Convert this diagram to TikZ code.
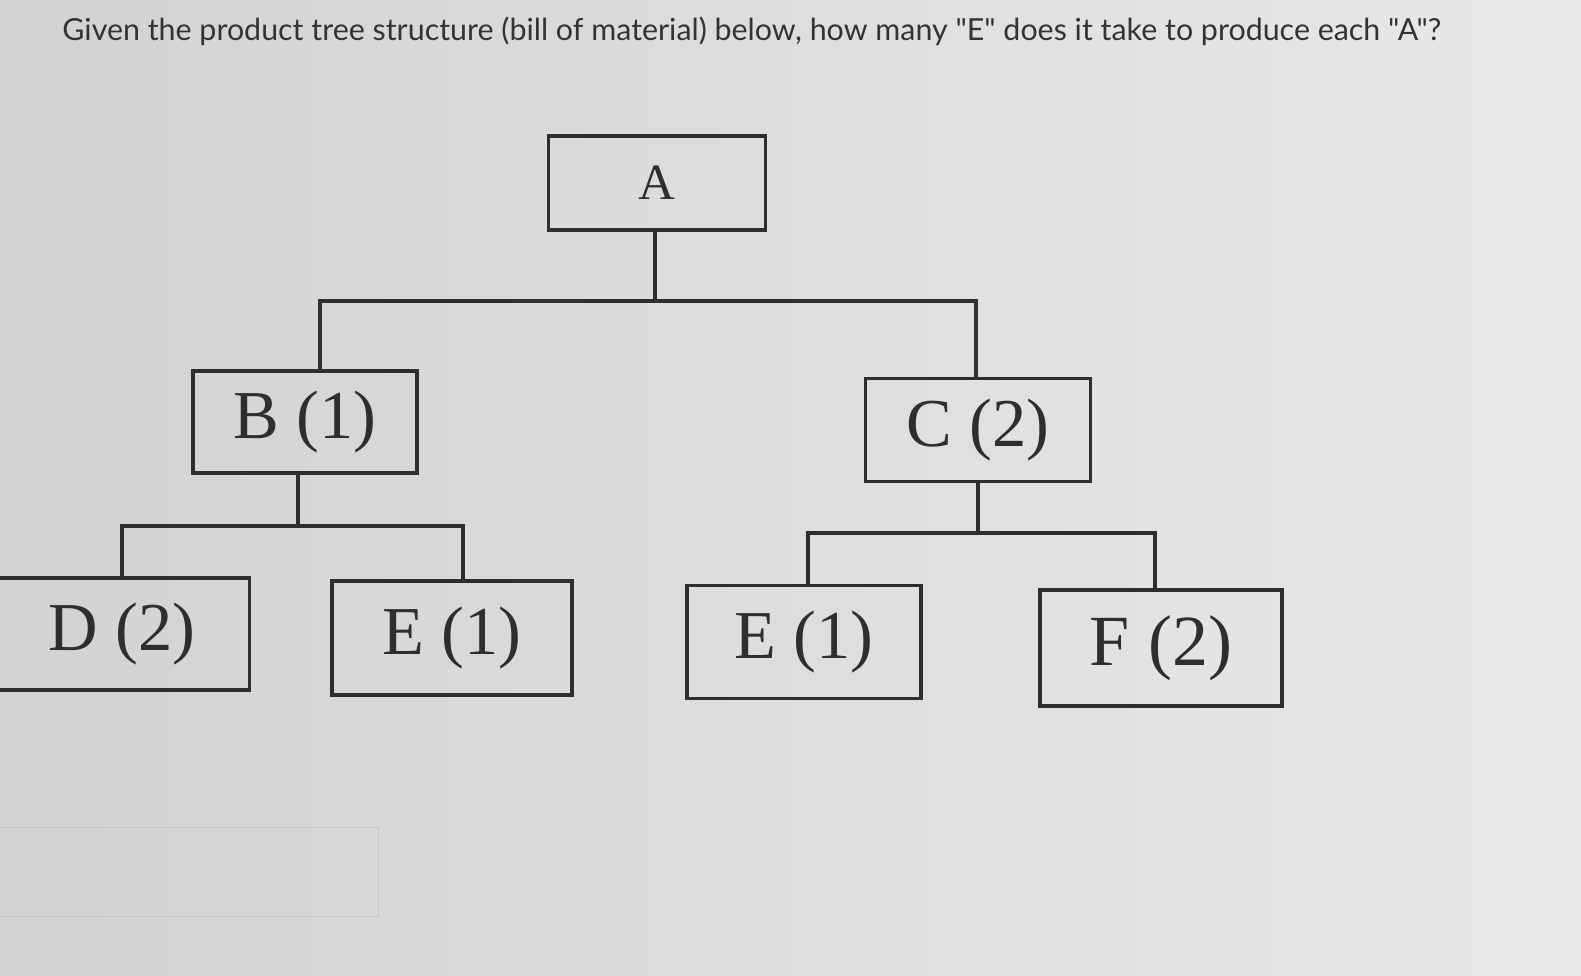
\documentclass[tikz,border=0pt]{standalone}
\usepackage{fontspec}
\setmainfont{Liberation Serif}
\newfontfamily\titlefont{Lato}
\usetikzlibrary{calc}
\definecolor{inkc}{HTML}{2E2E2E}
\definecolor{titlec}{HTML}{333333}
\definecolor{bgleft}{HTML}{D2D2D2}
\definecolor{bgright}{HTML}{E9E9E9}
\definecolor{fieldc}{HTML}{C4C4C4}
\begin{document}
\begin{tikzpicture}[x=0.02cm,y=-0.02cm,
  partbox/.style={draw=inkc,line width=2.2pt,rectangle,inner sep=0pt,text=inkc,font=\fontsize{39}{41}\selectfont},
  link/.style={draw=inkc,line width=2.2pt}]
\shade[left color=bgleft,right color=bgright] (0,0) rectangle (1581,976);
\useasboundingbox (0,0) rectangle (1581,976);
\node[anchor=base west,text=titlec,font=\titlefont\fontsize{17.3}{19}\selectfont,inner sep=0pt] (title) at (62,41) {Given the product tree structure (bill of material) below, how many "E" does it take to produce each "A"?};
\node[partbox,minimum width=4.34cm,minimum height=1.88cm,font=\fontsize{29}{31}\selectfont] (A) at (657,183) {A};
\node[partbox,minimum width=4.48cm,minimum height=2.04cm] (B) at (305,422) {B (1)};
\node[partbox,minimum width=4.5cm,minimum height=2.06cm] (C) at (978,430) {C (2)};
\node[partbox,minimum width=5.1cm,minimum height=2.24cm] (D) at (122,634) {D (2)};
\node[partbox,minimum width=4.8cm,minimum height=2.28cm] (E1) at (452,638) {E (1)};
\node[partbox,minimum width=4.68cm,minimum height=2.26cm] (E2) at (804,642) {E (1)};
\node[partbox,minimum width=4.84cm,minimum height=2.32cm,font=\fontsize{41}{43}\selectfont] (F) at (1161,648) {F (2)};
\coordinate (jA) at (655,301);
\coordinate (jB) at (298,526);
\coordinate (jC) at (978,533);
\draw[link] ($(A.south)+(-2,0)$) -- (jA);
\draw[link] ($(B.north)+(15,0)$) |- (jA) -| ($(C.north)+(-2,0)$);
\draw[link] ($(B.south)+(-7,0)$) -- (jB);
\draw[link] ($(D.north)+(0,0)$) |- (jB) -| ($(E1.north)+(11,0)$);
\draw[link] (C.south) -- (jC);
\draw[link] ($(E2.north)+(4,0)$) |- (jC) -| ($(F.north)+(-6,0)$);
\node[draw=fieldc,line width=0.6pt,rectangle,minimum width=7.6cm,minimum height=1.78cm,anchor=north west,inner sep=0pt] (answer) at (-2,827) {};
\end{tikzpicture}
\end{document}
